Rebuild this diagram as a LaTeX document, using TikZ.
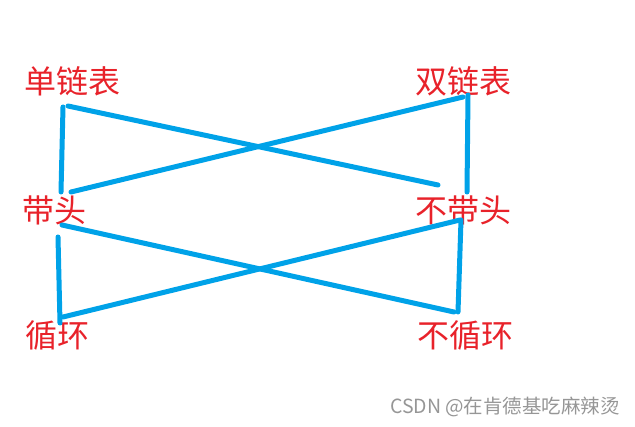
\documentclass[tikz,border=0pt]{standalone}
\usepackage{fontspec}
\newfontfamily\cjk{Noto Sans CJK SC}
\definecolor{paintred}{RGB}{232,34,42}
\definecolor{paintblue}{RGB}{0,162,232}
\definecolor{markgray}{RGB}{150,150,150}
\tikzset{
    term/.style={text=paintred, font=\cjk\fontsize{32}{36}\selectfont, inner sep=0pt},
    stroke/.style={paintblue, line width=5pt, line cap=round},
}
\begin{document}
\begin{tikzpicture}[x=1pt,y=-1pt]
    \useasboundingbox (0,0) rectangle (635,427);

    % Left column
    \node[term] (single) at (72,81) {单链表};
    \node[term] (head) at (55,210) {带头};
    \node[term] (cycle) at (57,335) {循环};

    % Right column
    \node[term] (double) at (463,81) {双链表};
    \node[term] (nohead) at (463,210) {不带头};
    \node[term] (nocycle) at (465,335) {不循环};

    % Line ends below and above the words
    \coordinate (singleA) at (63,107);
    \coordinate (singleB) at (68,106);
    \coordinate (headA) at (61,192);
    \coordinate (headB) at (71,192);
    \coordinate (headC) at (62,225);
    \coordinate (headD) at (58,237);
    \coordinate (cycleA) at (60,323);
    \coordinate (cycleB) at (63,317);
    \coordinate (doubleA) at (468,95);
    \coordinate (doubleB) at (463,97);
    \coordinate (noheadA) at (467,192);
    \coordinate (noheadB) at (438,185);
    \coordinate (noheadC) at (461,220);
    \coordinate (noheadD) at (460,220);
    \coordinate (nocycleA) at (458,312);
    \coordinate (nocycleB) at (454,312);

    % Verticals
    \draw[stroke] (singleA) -- (headA);
    \draw[stroke] (headD) -- (cycleA);
    \draw[stroke] (doubleA) -- (noheadA);
    \draw[stroke] (noheadC) -- (nocycleA);

    % Crossings
    \draw[stroke] (singleB) -- (noheadB);
    \draw[stroke] (headB) -- (doubleB);
    \draw[stroke] (headC) -- (nocycleB);
    \draw[stroke] (cycleB) -- (noheadD);

    % Watermark
    \node[text=markgray, font=\cjk\fontsize{19.5}{22}\selectfont, inner sep=0pt] (mark) at (505,407) {CSDN @在肯德基吃麻辣烫};
\end{tikzpicture}
\end{document}
